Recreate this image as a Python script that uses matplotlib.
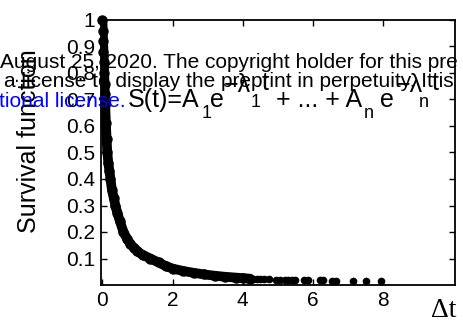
import numpy as np
import matplotlib
matplotlib.use("Agg")
import matplotlib.pyplot as plt

plt.rcParams['font.family'] = ['Liberation Sans', 'DejaVu Sans']

# survival curve, dense part
t_dense = [0.0, 0.01, 0.02, 0.03, 0.04, 0.05, 0.06, 0.07, 0.08, 0.1, 0.12, 0.14,
           0.17, 0.2, 0.23, 0.27, 0.32, 0.37, 0.43, 0.5, 0.6, 0.7, 0.8, 0.9,
           1.0, 1.15, 1.37, 1.6, 1.8, 2.0, 2.3, 2.6, 2.9, 3.2, 3.5, 3.8, 4.0, 4.2]
s_dense = [1.0, 0.96, 0.92, 0.88, 0.84, 0.8, 0.76, 0.72, 0.68, 0.61, 0.55, 0.5,
           0.46, 0.43, 0.4, 0.36, 0.33, 0.3, 0.27, 0.24, 0.2, 0.175, 0.155, 0.14,
           0.127, 0.113, 0.1, 0.085, 0.072, 0.062, 0.053, 0.046, 0.04, 0.035, 0.031, 0.028, 0.026, 0.024]

# sparse tail points
t_tail = [4.3, 4.4, 4.5, 4.6, 4.75, 4.95, 5.05, 5.2, 5.3, 5.4, 5.5, 5.75, 5.85,
          6.2, 6.3, 6.55, 6.65, 7.15, 7.5, 7.95]
s_tail = [0.023, 0.022, 0.022, 0.021, 0.021, 0.02, 0.02, 0.019, 0.019, 0.019, 0.018, 0.018, 0.018,
          0.017, 0.017, 0.016, 0.016, 0.015, 0.015, 0.014]

xticks = [0, 2, 4, 6, 8]
yticks = [0.1, 0.2, 0.3, 0.4, 0.5, 0.6, 0.7, 0.8, 0.9, 1.0]
ytick_labels = ['0.1', '0.2', '0.3', '0.4', '0.5', '0.6', '0.7', '0.8', '0.9', '1']

W, H = 463, 322
fig = plt.figure(figsize=(W / 100, H / 100), dpi=100)
ax = fig.add_axes([101 / W, 1 - 285 / H, (455 - 101) / W, (285 - 20) / H])

ax.plot(t_dense, s_dense, color='k', lw=7, solid_capstyle='round', zorder=2)
ax.plot(t_dense, s_dense, 'o', color='k', ms=6.5, zorder=3, clip_on=False)
ax.plot(t_tail, s_tail, 'o', color='k', ms=4.5, zorder=3)

ax.set_xlim(-0.04, 10.05)
ax.set_ylim(0, 1)
ax.set_xticks(xticks)
ax.set_yticks(yticks)
ax.set_yticklabels(ytick_labels)
ax.tick_params(direction='in', top=True, right=True, labeltop=False, labelright=False,
               labelsize=15, length=4, width=1, pad=4)
for sp in ax.spines.values():
    sp.set_linewidth(1.3)

# y label: centre near x=27 px, y=141 px
ax.set_ylabel('Survival function', fontsize=18)
ax.yaxis.set_label_coords((41 - 101) / (455 - 101), (285 - 141) / (285 - 20))


def ftxt(x, y, s, size=15, color='k', **kw):
    fig.text(x / W, 1 - y / H, s, fontsize=size, color=color, ha='left', va='baseline', **kw)


# overlapping preprint watermark text
ftxt(0, 68, 'August 25, 2020. The copyright holder for this pre')
ftxt(4, 87, 'a license to display the preprint in perpetuity. It is')
ftxt(-1, 107, 'tional license.', color='blue')

# formula
ftxt(128, 107, 'S(t)=A', size=18)
ftxt(202, 118, '1', size=13)
ftxt(210, 107, 'e', size=18)
ftxt(224, 92, '\u2212\u03bb', size=18)
ftxt(251, 107, '1', size=13)
ftxt(262, 90, 't', size=18)
ftxt(276, 107, '+ ... + A', size=18)
ftxt(364, 118, 'n', size=13)
ftxt(380, 107, 'e', size=18)
ftxt(396, 92, '\u2212\u03bb', size=18)
ftxt(419, 107, 'n', size=13)
ftxt(432, 90, 't', size=18)

fig.text(431 / W, 1 - 317 / H, '\u0394t', fontsize=20, family='Liberation Serif',
         ha='left', va='baseline')

fig.savefig('out.png', dpi=100)
